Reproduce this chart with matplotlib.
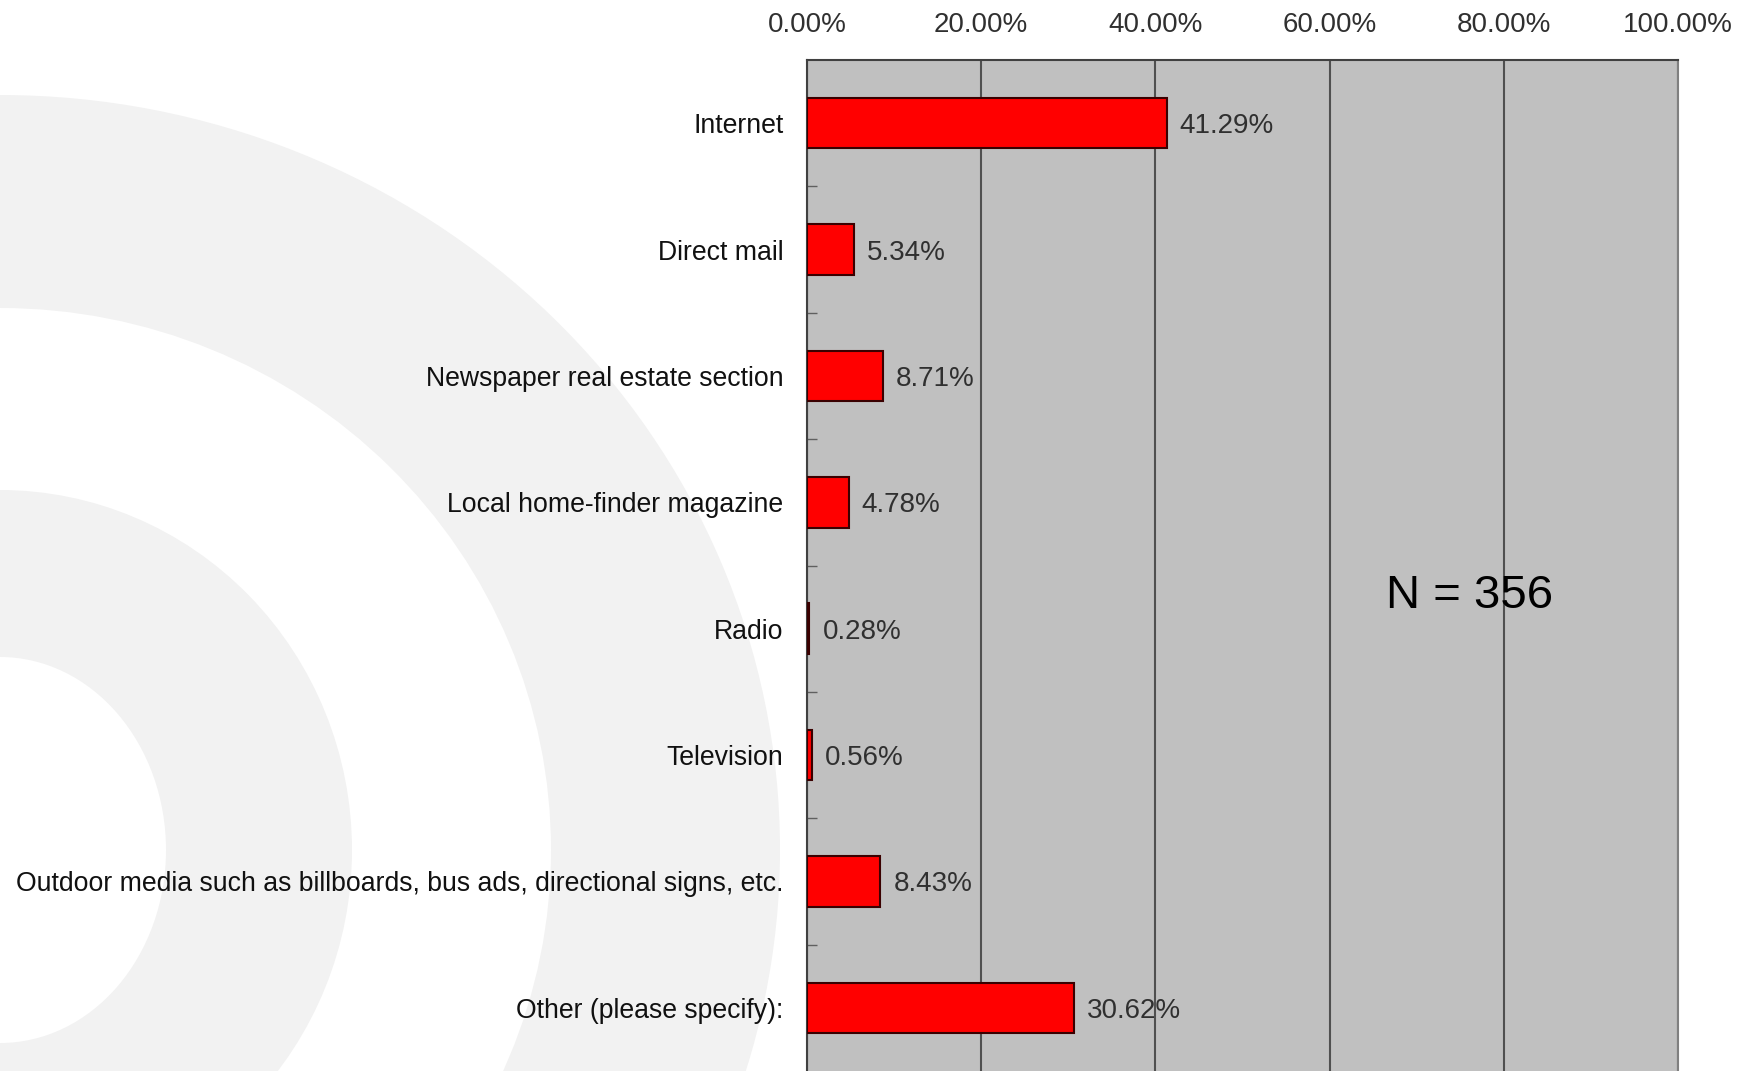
import matplotlib.pyplot as plt
from matplotlib.patches import Ellipse
from matplotlib.ticker import FuncFormatter

categories = [
    "Internet",
    "Direct mail",
    "Newspaper real estate section",
    "Local home-finder magazine",
    "Radio",
    "Television",
    "Outdoor media such as billboards, bus ads, directional signs, etc.",
    "Other (please specify):",
]
shares = [41.29, 5.34, 8.71, 4.78, 0.28, 0.56, 8.43, 30.62]
x_ticks = [0, 20, 40, 60, 80, 100]
sample_note = "N = 356"

plt.rcParams['font.family'] = ['Liberation Sans', 'DejaVu Sans']

W, H = 1746, 1071
fig = plt.figure(figsize=(W / 100, H / 100), dpi=100)
fig.patch.set_facecolor('white')

# decorative rings behind everything, drawn in pixel space
bg = fig.add_axes([0, 0, 1, 1], zorder=0)
bg.set_xlim(0, W)
bg.set_ylim(H, 0)
bg.axis('off')
rings = [(780, 755, '#f2f2f2'), (551, 542, 'white'),
         (352, 360, '#f2f2f2'), (166, 193, 'white')]
for rx, ry, col in rings:
    bg.add_patch(Ellipse((0, 850), 2 * rx, 2 * ry, facecolor=col, edgecolor='none'))

ax = fig.add_axes([807 / W, 0, 871 / W, 1011 / H], zorder=1)
ax.set_facecolor('#c0c0c0')

ypos = list(range(len(categories)))
bars = ax.barh(ypos, shares, height=0.4, color='#ff0000',
               edgecolor='#3a0000', linewidth=1.5, zorder=3)

for y, v in zip(ypos, shares):
    ax.text(v + 1.5, y, f"{v:.2f}%", va='center_baseline', ha='left',
            fontsize=20, color='#303030', zorder=4)

ax.set_xlim(0, 100)
ax.set_ylim(len(categories) - 0.5, -0.5)
ax.set_xticks(x_ticks)
ax.xaxis.set_major_formatter(FuncFormatter(lambda v, p: f"{v:.2f}%"))
ax.xaxis.tick_top()
ax.tick_params(axis='x', length=0, pad=16, labelsize=20, labelcolor='#303030')
ax.grid(axis='x', color='#505050', linewidth=1.5, zorder=1)
ax.set_axisbelow(True)

ax.set_yticks(ypos)
ax.set_yticklabels(categories, va='center_baseline')
ax.set_yticks([i + 0.5 for i in ypos[:-1]], minor=True)
ax.tick_params(axis='y', which='major', length=0, pad=17, labelsize=19.2,
               labelcolor='#111111')
ax.tick_params(axis='y', which='minor', direction='in', length=7,
               width=1, color='#606060')

for side in ['top', 'left']:
    ax.spines[side].set_color('#404040')
    ax.spines[side].set_linewidth(1.5)
ax.spines['right'].set_color('#808080')
ax.spines['right'].set_linewidth(1.5)
ax.spines['bottom'].set_visible(False)

ax.text(0.761, 0.47, sample_note, transform=ax.transAxes, ha='center',
        va='center', fontsize=34, color='black', zorder=4)

fig.savefig('out.png', dpi=100)
